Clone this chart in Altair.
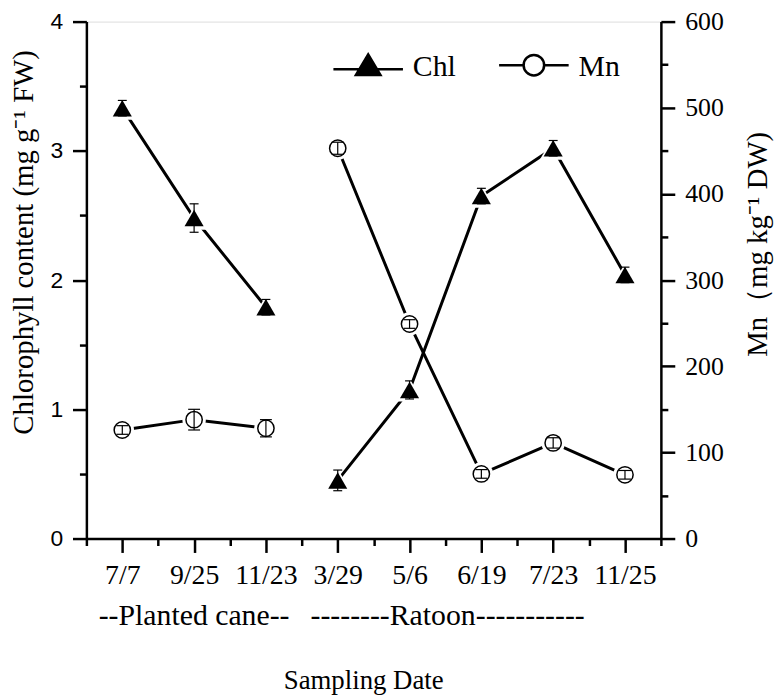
import json
import altair as alt
import pandas as pd

SERIF = "Liberation Serif"
SANS = "Liberation Sans"

# ---------------- data ----------------
dates = ["7/7", "9/25", "11/23", "3/29", "5/6", "6/19", "7/23", "11/25"]
stage = ["Planted", "Planted", "Planted", "Ratoon", "Ratoon", "Ratoon", "Ratoon", "Ratoon"]
chl = [3.33, 2.48, 1.79, 0.45, 1.15, 2.65, 3.02, 2.04]
chl_err = [0.06, 0.11, 0.06, 0.08, 0.07, 0.06, 0.06, 0.06]
mn = [126, 138, 128, 453, 249, 75, 111, 74]
mn_err = [5, 12, 10, 7, 5, 5, 6, 5]

group_labels = ["--Planted cane--", "--------Ratoon-----------"]
group_centers = [2.0, 5.53]

series = ["Chl", "Mn"]

df = pd.DataFrame({
    "pos": list(range(1, len(dates) + 1)),
    "date": dates,
    "stage": stage,
    "chl": chl,
    "chl_lo": [v - e for v, e in zip(chl, chl_err)],
    "chl_hi": [v + e for v, e in zip(chl, chl_err)],
    "mn": mn,
    "mn_lo": [v - e for v, e in zip(mn, mn_err)],
    "mn_hi": [v + e for v, e in zip(mn, mn_err)],
})
groups_df = pd.DataFrame({"label": group_labels, "pos": group_centers})
legend_df = pd.DataFrame({"series": series})

# ---------------- axes / scales ----------------
common_axis = dict(
    grid=False, domainColor="black", domainWidth=2.5, tickColor="black",
    tickWidth=2.5, labelColor="black", titleColor="black",
    titleFontWeight="normal", labelOverlap=False, labelFlush=False,
    labelBound=False,
)

x_scale = alt.Scale(domain=[0.5, 8.5], nice=False, zero=False)
x_axis = alt.Axis(
    values=[0.5 + 0.5 * i for i in range(17)],
    labelExpr="datum.value % 1 == 0 ? " + json.dumps(dates) + "[datum.value - 1] : ''",
    tickSize={"condition": {"test": "datum.value % 1 == 0", "value": 14}, "value": 7},
    labelPadding=9, labelFont=SERIF, labelFontSize=28,
    title="Sampling Date", titleFont=SERIF, titleFontSize=27,
    titleX=279, titleY=151, titleBaseline="alphabetic", titleAlign="center",
    **common_axis,
)
X = alt.X("pos:Q", scale=x_scale, axis=x_axis)

yl_scale = alt.Scale(domain=[0, 4], nice=False, zero=True)
yl_axis = alt.Axis(
    orient="left",
    values=[0.5 * i for i in range(9)],
    labelExpr="datum.value % 1 == 0 ? format(datum.value, 'd') : ''",
    tickSize={"condition": {"test": "datum.value % 1 == 0", "value": 14}, "value": 7},
    labelPadding=10, labelFont=SANS, labelFontSize=23,
    title="Chlorophyll content (mg g⁻¹ FW)", titleFont=SERIF, titleFontSize=29,
    titleAngle=270, titleX=-63, titleY=222, titleBaseline="middle", titleAlign="center",
    **common_axis,
)

yr_scale = alt.Scale(domain=[0, 600], nice=False, zero=True)
yr_axis = alt.Axis(
    orient="right",
    values=[50 * i for i in range(13)],
    labelExpr="datum.value % 100 == 0 ? format(datum.value, 'd') : ''",
    tickSize={"condition": {"test": "datum.value % 100 == 0", "value": 14}, "value": 7},
    labelPadding=10, labelFont=SERIF, labelFontSize=26,
    title="Mn（mg kg⁻¹ DW)", titleFont=SERIF, titleFontSize=29,
    titleAngle=270, titleX=97, titleY=224, titleBaseline="middle", titleAlign="center",
    **common_axis,
)

base = alt.Chart(df)

# ---------------- Chl (left axis) ----------------
YL = alt.Y("chl:Q", scale=yl_scale, axis=yl_axis)
chl_line = base.mark_line(color="black", strokeWidth=3).encode(x=X, y=YL, detail="stage:N")
chl_halo = base.mark_point(shape="triangle-up", filled=True, color="white", size=730, opacity=1).encode(x=X, y=YL)
chl_pts = base.mark_point(shape="triangle-up", filled=True, color="black", size=370, opacity=1).encode(x=X, y=YL)
chl_bar = base.mark_rule(color="black", strokeWidth=1.2).encode(
    x=X, y=alt.Y("chl_lo:Q", scale=yl_scale, axis=yl_axis), y2="chl_hi:Q")
chl_cap_lo = base.mark_tick(orient="horizontal", size=9, thickness=1.2, color="black", opacity=1).encode(
    x=X, y=alt.Y("chl_lo:Q", scale=yl_scale, axis=yl_axis))
chl_cap_hi = base.mark_tick(orient="horizontal", size=9, thickness=1.2, color="black", opacity=1).encode(
    x=X, y=alt.Y("chl_hi:Q", scale=yl_scale, axis=yl_axis))
left = alt.layer(chl_line, chl_halo, chl_bar, chl_cap_lo, chl_cap_hi, chl_pts)

# ---------------- Mn (right axis) ----------------
YR = alt.Y("mn:Q", scale=yr_scale, axis=yr_axis)
mn_line = base.mark_line(color="black", strokeWidth=3).encode(x=X, y=YR, detail="stage:N")
mn_halo = base.mark_point(shape="circle", filled=True, color="white", size=560, opacity=1).encode(x=X, y=YR)
mn_pts = base.mark_point(shape="circle", filled=True, fill="white", stroke="black", strokeWidth=1.5,
                         size=270, opacity=1).encode(x=X, y=YR)
mn_bar = base.mark_rule(color="black", strokeWidth=1.2).encode(
    x=X, y=alt.Y("mn_lo:Q", scale=yr_scale, axis=yr_axis), y2="mn_hi:Q")
mn_cap_lo = base.mark_tick(orient="horizontal", size=12, thickness=1.2, color="black", opacity=1).encode(
    x=X, y=alt.Y("mn_lo:Q", scale=yr_scale, axis=yr_axis))
mn_cap_hi = base.mark_tick(orient="horizontal", size=12, thickness=1.2, color="black", opacity=1).encode(
    x=X, y=alt.Y("mn_hi:Q", scale=yr_scale, axis=yr_axis))
right = alt.layer(mn_line, mn_halo, mn_pts, mn_bar, mn_cap_lo, mn_cap_hi)

# ---------------- group labels under the axis ----------------
group_text = alt.Chart(groups_df).mark_text(
    font=SERIF, fontSize=30, color="black", baseline="alphabetic", align="center"
).encode(x=X, y=alt.value(608), text="label:N")

# ---------------- legend ----------------
chl_sym = "M-2.92,0.17H2.92M0,-1.07L1.03,0.65L-1.03,0.65Z"
mn_sym = ("M-2.92,-0.17H-0.86M0.86,-0.17H2.92"
          "M-0.86,-0.17A0.86,0.86,0,1,1,0.86,-0.17A0.86,0.86,0,1,1,-0.86,-0.17Z")
leg = alt.Legend(
    orient="none", legendX=269, legendY=31, direction="horizontal", columns=2,
    title=None, symbolSize=576, symbolStrokeWidth=2.5, symbolStrokeColor="black",
    symbolOpacity=1, labelFont=SERIF, labelFontSize=30, labelColor="black",
    labelOffset=30, columnPadding=37, padding=0, symbolOffset=0,
)
legend_layer = alt.Chart(legend_df).transform_filter("false").mark_point(
    size=576, opacity=1, strokeWidth=2.5
).encode(
    shape=alt.Shape("series:N", scale=alt.Scale(domain=series, range=[chl_sym, mn_sym]), legend=leg),
    fill=alt.Fill("series:N", scale=alt.Scale(domain=series, range=["black", "white"]), legend=leg),
    stroke=alt.Stroke("series:N", scale=alt.Scale(domain=series, range=["black", "black"]), legend=leg),
)

chart = alt.layer(left, right, group_text, legend_layer).resolve_scale(
    y="independent"
).properties(
    width=579, height=521,
    padding={"left": 79, "top": 11, "right": 114, "bottom": 158},
    autosize=alt.AutoSizeParams(type="none"),
).configure_view(
    stroke="black", strokeWidth=2.5
).configure(background="white")

chart.save("out.html", embed_options={"renderer": "svg", "actions": False})
